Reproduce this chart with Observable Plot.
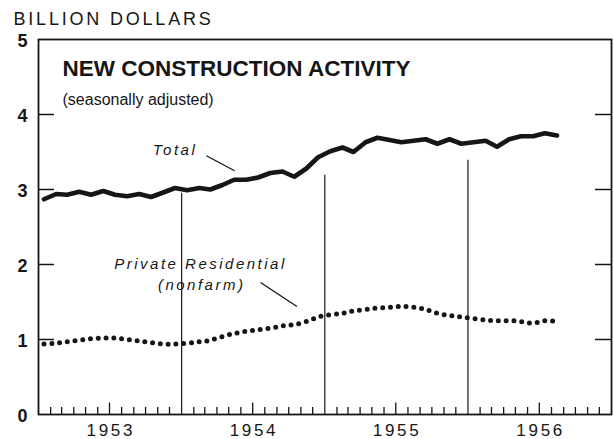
<!DOCTYPE html>
<html><head><meta charset="utf-8">
<script src="https://cdn.jsdelivr.net/npm/d3@7"></script>
<script src="https://cdn.jsdelivr.net/npm/@observablehq/plot@0.6"></script>
<style>html,body{margin:0;padding:0;background:#fff}</style>
</head><body><div id="chart"></div>
<script>
// ---- Data (billion dollars, seasonally adjusted, monthly Jan 1953 – Aug 1956) ----
const monthStarts = d3.utcMonth.range(new Date(Date.UTC(1953,0,1)), new Date(Date.UTC(1956,8,1)));
const totalValues = [
  2.87,2.94,2.93,2.97,2.93,2.98,2.93,2.91,2.94,2.90,2.96,3.02,
  2.99,3.02,3.00,3.06,3.13,3.13,3.16,3.22,3.24,3.17,3.28,3.43,
  3.51,3.56,3.50,3.63,3.69,3.66,3.63,3.65,3.67,3.61,3.67,3.61,
  3.63,3.65,3.57,3.67,3.71,3.71,3.75,3.72
];
const privateResidentialValues = [
  0.94,0.95,0.97,0.99,1.01,1.02,1.02,1.00,0.98,0.96,0.94,0.94,
  0.95,0.97,0.99,1.04,1.08,1.11,1.13,1.15,1.18,1.20,1.24,1.30,
  1.33,1.35,1.38,1.40,1.42,1.43,1.44,1.43,1.40,1.35,1.32,1.30,
  1.28,1.26,1.25,1.25,1.24,1.22,1.25,1.24
];
const yearLabels = ["1953","1954","1955","1956"];
const yTickLabels = [0,1,2,3,4,5];
const dividerYears = [1954,1955,1956];
const dividerTops = [2.95,3.19,3.39];

// ---- Layout ----
const ink = "#161616";
const W = 614, H = 439, mL = 38, mR = 3, mT = 39, mB = 25;
const plotW = W - mL - mR, plotH = H - mT - mB;
const font = "'Liberation Sans', Arial, sans-serif";

const mid = d => d3.utcDay.offset(d, 14);
const total = monthStarts.map((d,i) => ({date: mid(d), value: totalValues[i]}));
const priv = monthStarts.map((d,i) => ({date: mid(d), value: privateResidentialValues[i]}));
const dividers = dividerYears.map((y,i) => ({date: new Date(Date.UTC(y,0,1)), top: dividerTops[i]}));
const allMonths = d3.utcMonth.range(new Date(Date.UTC(1953,0,1)), new Date(Date.UTC(1957,0,1)));
const minorTicks = allMonths.filter(d => d.getUTCMonth() !== 0 && d.getUTCMonth() !== 6);
const julyTicks = allMonths.filter(d => d.getUTCMonth() === 6);
const years = yearLabels.map(s => ({date: new Date(Date.UTC(+s,6,1)), label: s}));
const D = s => new Date(s + "T00:00:00Z");

const chart = Plot.plot({
  width: W, height: H,
  marginLeft: mL, marginRight: mR, marginTop: mT, marginBottom: mB,
  style: {fontFamily: font, background: "#fff", color: ink, overflow: "visible"},
  x: {type: "utc", domain: [new Date(Date.UTC(1953,0,1)), new Date(Date.UTC(1957,0,1))], axis: null},
  y: {domain: [0, 5], axis: null},
  marks: [
    Plot.ruleX(minorTicks, {x: d => d, insetTop: plotH - 7, stroke: ink, strokeWidth: 1.3}),
    Plot.ruleX(julyTicks, {x: d => d, insetTop: plotH - 11.5, stroke: ink, strokeWidth: 1.3}),
    Plot.ruleY([1,2,3,4], {y: d => d, insetRight: plotW - 16, stroke: ink, strokeWidth: 1.5}),
    Plot.ruleY([1,2,3,4], {y: d => d, insetLeft: plotW - 16, stroke: ink, strokeWidth: 1.5}),
    Plot.ruleX(dividers, {x: "date", y1: 0, y2: "top", stroke: ink, strokeWidth: 1.2}),
    Plot.line(priv, {x: "date", y: "value", stroke: ink, strokeWidth: 5, strokeDasharray: "0 7.8", strokeLinecap: "round", curve: "natural"}),
    Plot.line(total, {x: "date", y: "value", stroke: ink, strokeWidth: 4.6, strokeLinejoin: "round", strokeLinecap: "round"}),
    Plot.frame({stroke: ink, strokeWidth: 1.8}),
    // y tick labels
    Plot.text(yTickLabels, {y: d => d, text: d => String(d), frameAnchor: "left", dx: -11, dy: 1.5, textAnchor: "end", fontSize: 18, fontWeight: "bold", fill: ink}),
    // year labels
    Plot.text(years, {x: "date", text: "label", frameAnchor: "bottom", dy: 21.5, dx: 1.3, lineAnchor: "bottom", fontSize: 17, fill: ink}),
    // axis unit label
    Plot.text(["BILLION DOLLARS"], {frameAnchor: "top-left", dx: -25, dy: -27, lineAnchor: "top", textAnchor: "start", fontSize: 18, fill: ink}),
    // titles
    Plot.text(["NEW CONSTRUCTION ACTIVITY"], {frameAnchor: "top-left", dx: 24, dy: 21, lineAnchor: "top", textAnchor: "start", fontSize: 22.5, fontWeight: "bold", fill: ink}),
    Plot.text(["(seasonally adjusted)"], {frameAnchor: "top-left", dx: 24, dy: 54.5, lineAnchor: "top", textAnchor: "start", fontSize: 16, fill: ink}),
    // series labels
    Plot.text([{date: D("1953-12-12"), value: 3.53, t: "Total"}], {x: "date", y: "value", text: "t", dx: 1.2, fontSize: 15, fontStyle: "italic", fill: ink}),
    Plot.text([{date: D("1954-02-15"), value: 2.01, t: "Private Residential"}, {date: D("1954-02-18"), value: 1.73, t: "(nonfarm)"}], {x: "date", y: "value", text: "t", dx: 1.2, fontSize: 15, fontStyle: "italic", fill: ink}),
    // leader lines
    Plot.link([{x1: D("1954-03-05"), y1: 3.45, x2: D("1954-05-16"), y2: 3.25}, {x1: D("1954-07-21"), y1: 1.76, x2: D("1954-10-22"), y2: 1.44}], {x1: "x1", y1: "y1", x2: "x2", y2: "y2", stroke: ink, strokeWidth: 1.3})
  ]
});
const spacing = {"Total": 2.5, "Private Residential": 2.5, "(nonfarm)": 2.5, "BILLION DOLLARS": 2.8, "1953": 2.7, "1954": 2.7, "1955": 2.7, "1956": 2.7};
d3.select(chart).selectAll("text").each(function() {
  const t = this.textContent;
  if (t in spacing) this.setAttribute("letter-spacing", spacing[t]);
});
document.getElementById("chart").appendChild(chart);
</script>
</body></html>
